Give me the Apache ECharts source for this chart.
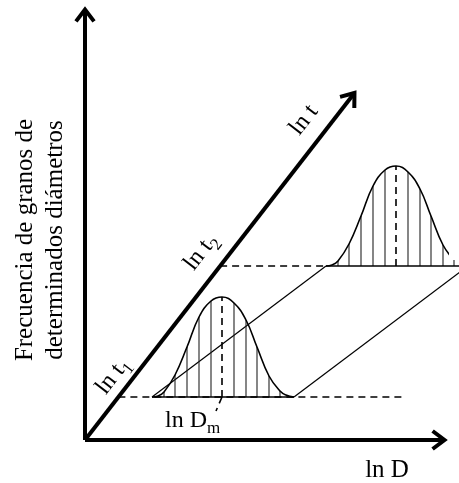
<!DOCTYPE html>
<html>
<head>
<meta charset="utf-8">
<script src="https://cdn.jsdelivr.net/npm/echarts@6/dist/echarts.min.js"></script>
<style>
  html, body { margin: 0; padding: 0; background: #fff; }
  #chart { width: 459px; height: 483px; }
</style>
</head>
<body>
<div id="chart"></div>
<script>
// Axes of the schematic: [x0, y0, x1, y1] in (ln D, frequency) units
const lnDAxis = [0, 0, 362, 0];
const freqAxis = [0, 0, 0, 433];
const lnTAxis = [0, 0, 271, 349];

// Two grain-size distributions, at times t1 and t2
const curveModes = [137, 311];   // ln Dm of each distribution
const curveBases = [43, 174];    // frequency level where each distribution sits (ln t1, ln t2)
const dashEnds = [320, 241];     // where each ln t guide line stops

// Shared distribution profile: offset from the mode and frequency above the base
const profileOffsets = [-70, -64, -58, -47, -35, -23, -11, 0, 12, 24, 35, 47, 58, 64, 72];
const profileHeights = [0, 1, 5, 22, 50, 80, 96, 100, 94, 77, 50, 21, 6, 2, 0];

// Leader from the lower mode to its ln Dm label
const modeLeader = [137, 43, 131, 29];

const SERIF = '"Liberation Serif", "Times New Roman", serif';

// position of the ln t axis at a given frequency level
function lnTAt(y) { return y * lnTAxis[2] / lnTAxis[3]; }

const curves = curveModes.map((m, i) =>
  profileOffsets.map((o, k) => [m + o, curveBases[i] + profileHeights[k]]));

const hatchSegs = [];
curveModes.forEach((m, i) => {
  profileOffsets.forEach((o, k) => {
    if (o !== 0 && profileHeights[k] >= 5) {
      hatchSegs.push([m + o, curveBases[i], m + o, curveBases[i] + profileHeights[k]]);
    }
  });
});

const first = profileOffsets[0];
const last = profileOffsets[profileOffsets.length - 1];
const peak = Math.max(...profileHeights);

const dashedSegs = [
  [lnTAt(curveBases[0]), curveBases[0], dashEnds[0], curveBases[0]],
  [lnTAt(curveBases[1]), curveBases[1], dashEnds[1], curveBases[1]],
  [curveModes[0], curveBases[0], curveModes[0], curveBases[0] + peak],
  [curveModes[1], curveBases[1], curveModes[1], curveBases[1] + peak],
  modeLeader
];

const baseSegs = curveModes.map((m, i) => [m + first, curveBases[i], m + last, curveBases[i]]);
const linkSegs = [
  [curveModes[0] + first, curveBases[0], curveModes[1] + first, curveBases[1]],
  [curveModes[0] + last, curveBases[0], curveModes[1] + last, curveBases[1]]
];

function segSeries(data, style) {
  return {
    type: 'custom',
    data: data,
    encode: { x: [0, 2], y: [1, 3] },
    silent: true,
    renderItem: function (params, api) {
      const a = api.coord([api.value(0), api.value(1)]);
      const b = api.coord([api.value(2), api.value(3)]);
      return { type: 'line', shape: { x1: a[0], y1: a[1], x2: b[0], y2: b[1] }, style: style };
    }
  };
}

function arrowSeries(data) {
  return {
    type: 'custom',
    data: data,
    encode: { x: [0, 2], y: [1, 3] },
    silent: true,
    renderItem: function (params, api) {
      const a = api.coord([api.value(0), api.value(1)]);
      const b = api.coord([api.value(2), api.value(3)]);
      const ang = Math.atan2(b[1] - a[1], b[0] - a[0]);
      const L = 17, h = 0.56;
      const p1 = [b[0] - L * Math.cos(ang - h), b[1] - L * Math.sin(ang - h)];
      const p2 = [b[0] - L * Math.cos(ang + h), b[1] - L * Math.sin(ang + h)];
      const tip = [b[0] - 2.5 * Math.cos(ang), b[1] - 2.5 * Math.sin(ang)];
      return {
        type: 'group',
        children: [
          { type: 'line', shape: { x1: a[0], y1: a[1], x2: tip[0], y2: tip[1] },
            style: { stroke: '#000', lineWidth: 4 } },
          { type: 'polyline', shape: { points: [p1, tip, p2] },
            style: { stroke: '#000', lineWidth: 4, fill: null, lineJoin: 'miter' } }
        ]
      };
    }
  };
}

const lineSeries = curves.map(c => ({
  type: 'line',
  data: c,
  smooth: 0.45,
  showSymbol: false,
  clip: false,
  silent: true,
  lineStyle: { color: '#000', width: 1.6 }
}));

const rot = Math.atan2(lnTAxis[3], lnTAxis[2]);
const labelRich = {
  a: { fontFamily: SERIF, fontSize: 24, color: '#000', lineHeight: 26 },
  s: { fontFamily: SERIF, fontSize: 17, color: '#000', lineHeight: 33, verticalAlign: 'bottom' }
};

const chart = echarts.init(document.getElementById('chart'), null, { renderer: 'canvas' });
chart.setOption({
  animation: false,
  backgroundColor: '#fff',
  grid: { left: 85, right: 12, top: 7, bottom: 43 },
  xAxis: { type: 'value', min: 0, max: 362, show: false },
  yAxis: { type: 'value', min: 0, max: 433, show: false },
  series: [
    segSeries(dashedSegs, { stroke: '#000', lineWidth: 1.6, lineDash: [7, 5] }),
    segSeries(linkSegs, { stroke: '#000', lineWidth: 1.2 }),
    segSeries(hatchSegs, { stroke: '#222', lineWidth: 1.1 }),
    segSeries(baseSegs, { stroke: '#000', lineWidth: 1.6 }),
    ...lineSeries,
    arrowSeries([freqAxis, lnDAxis, lnTAxis])
  ],
  graphic: [
    {
      type: 'text', x: 40, y: 240, rotation: Math.PI / 2,
      style: {
        text: 'Frecuencia de granos de\ndeterminados diámetros',
        font: '25px ' + SERIF, lineHeight: 30, fill: '#000',
        align: 'center', verticalAlign: 'middle'
      }
    },
    {
      type: 'text', x: 387, y: 470,
      style: { text: 'ln D', font: '25px ' + SERIF, fill: '#000', align: 'center', verticalAlign: 'middle' }
    },
    {
      type: 'text', x: 165, y: 421,
      style: { text: '{a|ln D}{s|m}', rich: labelRich, align: 'left', verticalAlign: 'middle' }
    },
    {
      type: 'text', x: 304, y: 120, rotation: rot,
      style: { text: 'ln t', font: '24px ' + SERIF, fill: '#000', align: 'center', verticalAlign: 'middle' }
    },
    {
      type: 'text', x: 201, y: 252, rotation: rot,
      style: { text: '{a|ln t}{s|2}', rich: labelRich, align: 'center', verticalAlign: 'middle' }
    },
    {
      type: 'text', x: 113, y: 376, rotation: rot,
      style: { text: '{a|ln t}{s|1}', rich: labelRich, align: 'center', verticalAlign: 'middle' }
    }
  ]
});
</script>
</body>
</html>
